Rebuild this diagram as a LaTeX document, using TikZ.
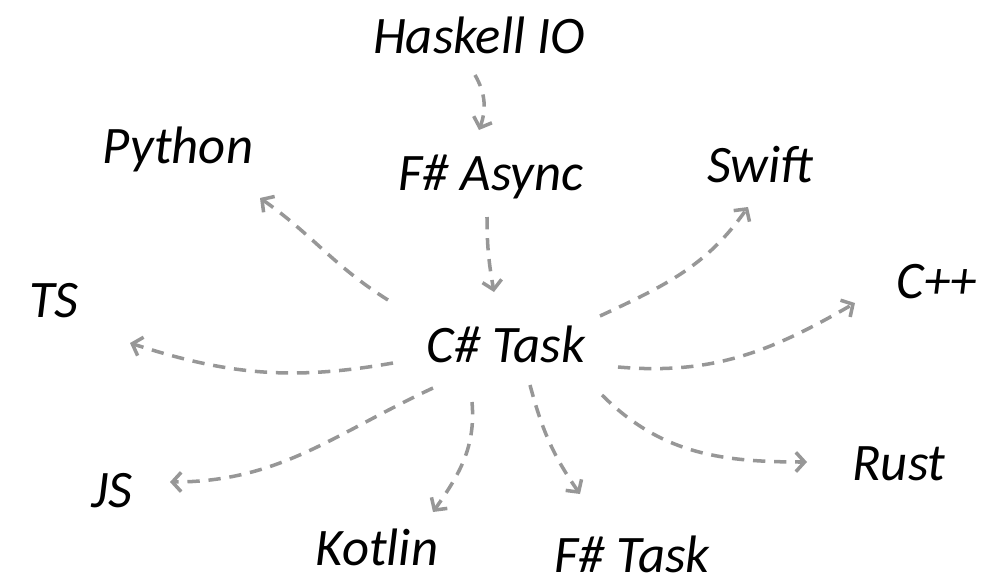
\documentclass[tikz,border=0pt]{standalone}
\usepackage{fontspec}
\setmainfont{Carlito}
\usetikzlibrary{arrows.meta}
\definecolor{flowgray}{HTML}{979797}

\begin{document}
\begin{tikzpicture}[x=0.02cm,y=0.02cm,>={Straight Barb[length=5pt,width=11pt]},
  lang/.style={font=\fontsize{30}{34}\selectfont\itshape,anchor=base,inner sep=2pt},
  flow/.style={->,draw=flowgray,line width=2pt,dash pattern=on 7pt off 5pt}]
\useasboundingbox (0,0) rectangle (992,-585);

\node[lang] (haskell) at (479,-53) {Haskell IO};
\node[lang] (fsasync) at (491,-190) {F\# Async};
\node[lang] (python) at (178,-163) {Python};
\node[lang] (swift) at (760,-182) {Swift};
\node[lang] (ts) at (54,-317) {TS};
\node[lang] (cpp) at (937,-298) {C++};
\node[lang] (ctask) at (506,-362) {C\# Task};
\node[lang] (js) at (112,-507) {JS};
\node[lang] (rust) at (899,-480) {Rust};
\node[lang] (kotlin) at (377,-565) {Kotlin};
\node[lang] (fstask) at (632,-572) {F\# Task};

\draw[flow] ([shift={(-4,-22)}]haskell.base) to[out=-60,in=70] ([shift={(-12,60)}]fsasync.base);
\draw[flow] ([shift={(-4,-27)}]fsasync.base) to[out=-90,in=100] ([shift={(-12,70)}]ctask.base);

% left side
\draw[flow] ([shift={(-118,62)}]ctask.base) to[out=148,in=-35] ([shift={(82,-35)}]python.base);
\draw[flow] ([shift={(-113,-1)}]ctask.base) to[out=190,in=-18] ([shift={(76,-26)}]ts.base);
\draw[flow] ([shift={(-73,-26)}]ctask.base) to[out=205,in=0] ([shift={(58,25)}]js.base);
\draw[flow] ([shift={(-34,-40)}]ctask.base) to[out=-85,in=55] ([shift={(56,53)}]kotlin.base);

% right side
\draw[flow] ([shift={(24,-23)}]ctask.base) to[out=-75,in=125] ([shift={(-52,78)}]fstask.base);
\draw[flow] ([shift={(96,-33)}]ctask.base) to[out=-45,in=180] ([shift={(-92,18)}]rust.base);
\draw[flow] ([shift={(112,-5)}]ctask.base) to[out=-5,in=-150] ([shift={(-82,-5)}]cpp.base);
\draw[flow] ([shift={(94,46)}]ctask.base) to[out=25,in=-125] ([shift={(-12,-25)}]swift.base);
\end{tikzpicture}
\end{document}
